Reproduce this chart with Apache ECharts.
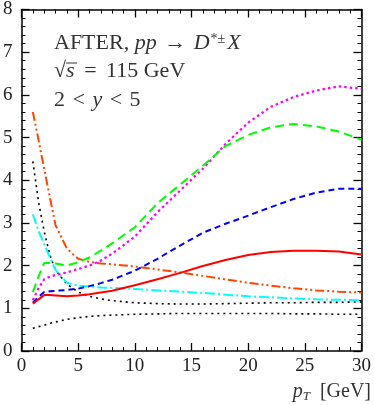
<!DOCTYPE html>
<html><head><meta charset="utf-8">
<script src="https://cdn.jsdelivr.net/npm/echarts@6/dist/echarts.min.js"></script>
<style>html,body{margin:0;padding:0;background:#fff}#c{width:374px;height:405px}</style>
</head><body><div id="c"></div>
<script>
// Data (x = pT in GeV)
const ptValues   = [1, 1.5, 2, 2.5, 3, 4, 5, 6, 7, 8, 10, 12, 14, 16, 18, 20, 22, 24, 26, 28, 30];
const redSolid   = [1.11,1.21,1.31,1.31,1.30,1.28,1.30,1.33,1.37,1.41,1.54,1.68,1.83,1.99,2.13,2.25,2.32,2.35,2.35,2.33,2.26];
const blueDash   = [1.13,1.27,1.38,1.40,1.41,1.43,1.46,1.52,1.59,1.67,1.88,2.16,2.47,2.77,2.98,3.17,3.37,3.56,3.71,3.80,3.80];
const greenDash  = [1.38,1.74,2.06,2.06,2.05,2.00,2.08,2.19,2.35,2.52,2.90,3.46,3.90,4.34,4.80,5.06,5.24,5.32,5.26,5.14,4.95];
const magentaDot = [1.19,1.47,1.68,1.74,1.78,1.84,1.92,2.00,2.12,2.28,2.68,3.25,3.76,4.27,4.85,5.35,5.72,5.95,6.10,6.20,6.14];
const orangeDDot = [5.60,4.95,4.27,3.60,2.95,2.40,2.16,2.09,2.05,2.03,1.98,1.91,1.84,1.76,1.68,1.60,1.53,1.47,1.42,1.39,1.37];
const cyanDashDot= [3.20,2.82,2.50,2.20,1.90,1.60,1.53,1.51,1.49,1.48,1.45,1.42,1.39,1.36,1.32,1.28,1.26,1.23,1.21,1.20,1.19];
const blackUpper = [4.44,3.50,2.80,2.25,1.89,1.57,1.38,1.28,1.22,1.18,1.13,1.11,1.10,1.10,1.11,1.12,1.13,1.13,1.14,1.14,1.15];
const blackLower = [0.53,0.57,0.60,0.65,0.68,0.74,0.78,0.81,0.83,0.84,0.86,0.87,0.88,0.88,0.88,0.88,0.88,0.87,0.87,0.86,0.86];
const xTicks = [0, 5, 10, 15, 20, 25, 30];
const yTicks = [0, 1, 2, 3, 4, 5, 6, 7, 8];

const FONT = '"Liberation Serif", "DejaVu Serif", serif';
const pairs = ys => ptValues.map((x, i) => [x, ys[i]]);
const mk = (name, ys, color, type, width) => ({
  name, type: 'line', data: pairs(ys), showSymbol: false, symbol: 'none',
  smooth: false, xAxisIndex: 0, yAxisIndex: 0,
  lineStyle: { color, type, width, cap: 'butt' }
});

const baseX = (pos, labels) => ({
  type: 'value', position: pos, min: 0, max: 30, interval: 5,
  axisLine: { show: true, onZero: false, lineStyle: { color: '#000', width: 1.5 } },
  axisTick: { show: true, inside: true, length: 8, lineStyle: { color: '#000', width: 1.3 } },
  minorTick: { show: true, splitNumber: 5, length: 4, lineStyle: { color: '#000', width: 1 } },
  splitLine: { show: false },
  axisLabel: { show: labels, margin: 6, color: '#222', fontFamily: FONT, fontSize: 19,
    formatter: v => xTicks.includes(v) ? String(v) : '' }
});
const baseY = (pos, labels) => ({
  type: 'value', position: pos, min: 0, max: 8, interval: 1,
  axisLine: { show: true, onZero: false, lineStyle: { color: '#000', width: 1.5 } },
  axisTick: { show: true, inside: true, length: 8, lineStyle: { color: '#000', width: 1.3 } },
  minorTick: { show: true, splitNumber: 5, length: 4, lineStyle: { color: '#000', width: 1 } },
  splitLine: { show: false },
  axisLabel: { show: labels, margin: 9, color: '#222', fontFamily: FONT, fontSize: 19,
    formatter: v => yTicks.includes(v) ? String(v) : '' }
});

const T = '#333';
const n = { fontFamily: FONT, fontSize: 22, fill: T };
const it = { fontFamily: FONT, fontSize: 22, fontStyle: 'italic', fill: T };
const op = { fontFamily: FONT, fontSize: 22, fill: T, padding: [0, 2, 0, 2] };
const eq = { fontFamily: FONT, fontSize: 22, fill: T, padding: [0, 4, 0, 4] };

const chart = echarts.init(document.getElementById('c'), null, { renderer: 'canvas' });
chart.setOption({
  animation: false,
  backgroundColor: '#fff',
  grid: { left: 21, right: 11, top: 9, bottom: 54, containLabel: false },
  xAxis: [baseX('bottom', true), baseX('top', false)],
  yAxis: [baseY('left', true), baseY('right', false)],
  series: [
    mk('black lower', blackLower, '#000', [2, 4], 1.6),
    mk('black upper', blackUpper, '#000', [2, 4], 1.6),
    mk('cyan', cyanDashDot, '#00ffff', [10, 3, 2, 3], 2),
    mk('orange', orangeDDot, '#ff4500', [9, 3, 2, 3, 2, 3], 2),
    mk('magenta', magentaDot, '#ff00ff', [2.5, 3], 2.2),
    mk('green', greenDash, '#00ff00', [9, 5], 2),
    mk('blue', blueDash, '#0000ff', [6, 4], 2),
    mk('red', redSolid, '#ff0000', 'solid', 2)
  ],
  graphic: [
    { type: 'text', left: 54, top: 32, style: {
      text: '{n|AFTER, }{i|pp}{op| → }{i|D}{s|*±}{i|X}',
      rich: { n, i: it, op,
        s: { fontFamily: FONT, fontSize: 14, fill: T, verticalAlign: 'top', padding: [0, 2, 9, 1] } } } },
    { type: 'text', left: 54, top: 60, style: {
      text: '{n|√}{i|s}{eq| = }{n|115 GeV}',
      rich: { n, i: it, eq } } },
    { type: 'line', shape: { x1: 66, y1: 63, x2: 77, y2: 63 }, style: { stroke: T, lineWidth: 1 } },
    { type: 'text', left: 54, top: 89, style: {
      text: '{n|2}{op| < }{i|y}{op| < }{n|5}',
      rich: { n, i: it, op } } },
    { type: 'text', right: 3, top: 382, style: {
      text: '{i|p}{sub|T}{n|  [GeV]}',
      rich: {
        n: { fontFamily: FONT, fontSize: 20, fill: T },
        i: { fontFamily: FONT, fontSize: 20, fontStyle: 'italic', fill: T },
        sub: { fontFamily: FONT, fontSize: 13, fontStyle: 'italic', fill: T, padding: [9, 0, 0, 0] }
      } } }
  ]
});
</script></body></html>
